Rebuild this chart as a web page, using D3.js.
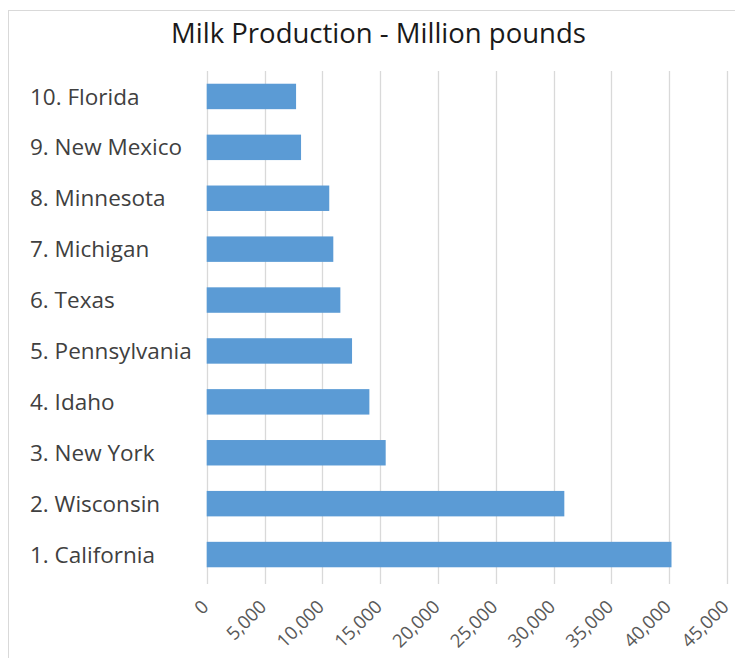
<!DOCTYPE html>
<html>
<head>
<meta charset="utf-8">
<script src="https://cdn.jsdelivr.net/npm/d3@7"></script>
<style>
  html, body { margin: 0; padding: 0; background: #fff; }
  svg { display: block; font-family: "Open Sans", sans-serif; }
</style>
</head>
<body>
<svg id="chart" width="735" height="658"></svg>
<script>
// Top ten milk-producing states, million pounds
const states = [
  "1. California", "2. Wisconsin", "3. New York", "4. Idaho",
  "5. Pennsylvania", "6. Texas", "7. Michigan", "8. Minnesota",
  "9. New Mexico", "10. Florida"
];
const production = [40200, 30930, 15480, 14070, 12570, 11560, 10950, 10600, 8160, 7730];
const tickValues = [0, 5000, 10000, 15000, 20000, 25000, 30000, 35000, 40000, 45000];
const chartTitle = "Milk Production - Million pounds";

const rows = states.map((s, i) => ({ state: s, value: production[i] }));

const svg = d3.select("#chart");
const plot = { left: 206.7, right: 727, top: 71, bottom: 580 };

// outer chart frame
svg.append("rect")
  .attr("x", 8.5).attr("y", 10.5)
  .attr("width", 900).attr("height", 900)
  .attr("fill", "none").attr("stroke", "#d9d9d9");

const x = d3.scaleLinear().domain([0, 45000]).range([plot.left, plot.right]);
const y = d3.scaleBand()
  .domain(states.slice().reverse())
  .range([plot.top, plot.bottom])
  .paddingInner(0.5).paddingOuter(0.25);

// vertical gridlines
svg.append("g").selectAll("line").data(tickValues).join("line")
  .attr("x1", d => Math.round(x(d)) + 0.5).attr("x2", d => Math.round(x(d)) + 0.5)
  .attr("y1", plot.top).attr("y2", plot.bottom + 4)
  .attr("stroke", "#d9d9d9").attr("stroke-width", 1.3);

// bars
svg.append("g").selectAll("rect").data(rows).join("rect")
  .attr("x", x(0))
  .attr("y", d => y(d.state))
  .attr("width", d => x(d.value) - x(0))
  .attr("height", y.bandwidth())
  .attr("fill", "#5b9bd5");

// category labels
svg.append("g").selectAll("text").data(rows).join("text")
  .attr("x", 30)
  .attr("y", d => y(d.state) + y.bandwidth() / 2)
  .attr("dy", "0.36em")
  .attr("font-size", 22.5)
  .attr("fill", "#404040")
  .text(d => d.state);

// rotated value-axis labels
const fmt = d3.format(",");
svg.append("g").selectAll("text").data(tickValues).join("text")
  .attr("transform", d => `translate(${x(d) + 3},608) rotate(-45)`)
  .attr("text-anchor", "end")
  .attr("font-size", 18.5)
  .attr("fill", "#595959")
  .text(d => fmt(d));

// title
svg.append("text")
  .attr("x", 378.5).attr("y", 43)
  .attr("text-anchor", "middle")
  .attr("font-size", 27.5)
  .attr("fill", "#1a1a1a")
  .text(chartTitle);
</script>
</body>
</html>
